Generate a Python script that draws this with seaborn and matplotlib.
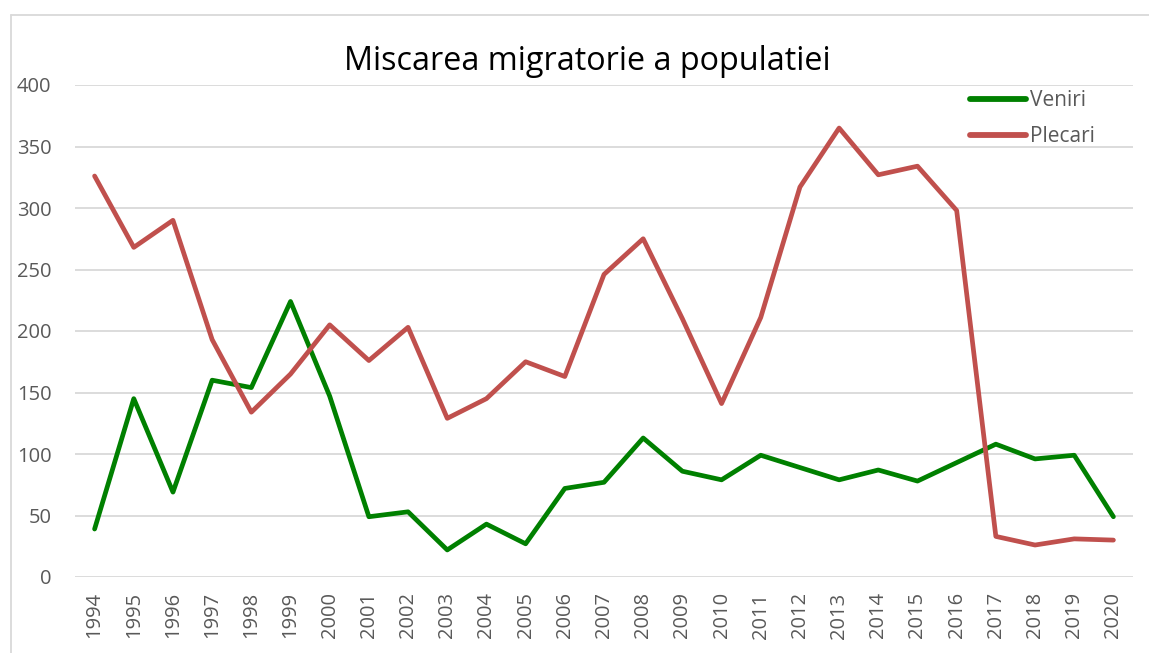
import matplotlib
matplotlib.use("Agg")
import matplotlib.pyplot as plt
import seaborn as sns
import pandas as pd
from matplotlib.lines import Line2D

years = list(range(1994, 2021))
veniri = [39, 145, 69, 160, 154, 224, 147, 49, 53, 22, 43, 27, 72, 77, 113, 86, 79, 99, 89, 79, 87, 78, 93, 108, 96, 99, 49]
plecari = [326, 268, 290, 193, 134, 165, 205, 176, 203, 129, 145, 175, 163, 246, 275, 210, 141, 211, 317, 365, 327, 334, 298, 33, 26, 31, 30]
series_names = ["Veniri", "Plecari"]
colors = {"Veniri": "#008000", "Plecari": "#C0504D"}
title = "Miscarea migratorie a populatiei"

df = pd.concat([
    pd.DataFrame({"An": years, "Valoare": veniri, "Serie": "Veniri"}),
    pd.DataFrame({"An": years, "Valoare": plecari, "Serie": "Plecari"}),
])

sns.set_theme(style="white")
plt.rcParams["font.family"] = ["Open Sans", "DejaVu Sans"]

W, H = 1149, 653
fig = plt.figure(figsize=(W / 100, H / 100), dpi=100)
ax = fig.add_axes([75 / W, 1 - 577 / H, (1133 - 75) / W, (577 - 85) / H])

sns.lineplot(data=df, x="An", y="Valoare", hue="Serie", hue_order=series_names,
             palette=colors, linewidth=3.4, ax=ax, legend=False,
             solid_capstyle="round", solid_joinstyle="round")

ax.set_xlim(1993.5, 2020.5)
ax.set_ylim(0, 400)
ax.set_yticks(range(0, 401, 50))
ax.set_xticks(years)
ax.set_xticklabels([str(y) for y in years], rotation=90)
ax.grid(axis="y", color="#d9d9d9", linewidth=1.3)
ax.grid(axis="x", visible=False)
ax.set_axisbelow(True)
for s in ax.spines.values():
    s.set_visible(False)
ax.tick_params(axis="y", length=0, pad=17, labelsize=14.5, labelcolor="#595959")
ax.tick_params(axis="x", length=0, pad=11, labelsize=14.5, labelcolor="#595959")
ax.set_xlabel("")
ax.set_ylabel("")

fig.text(587 / W, 1 - 61 / H, title, ha="center", va="center", fontsize=23.3, color="#000000")

handles = [Line2D([0], [0], color=colors[n], linewidth=4.2, solid_capstyle="round") for n in series_names]
leg = ax.legend(handles, series_names, loc="upper left", bbox_to_anchor=((962 - 75) / (1133 - 75), 1 + 3 / 492),
                frameon=False, fontsize=15, labelcolor="#595959", handlelength=2.65,
                handletextpad=0.2, labelspacing=0.72, borderaxespad=0)

# chart border (left and top)
fig.add_artist(Line2D([11 / W, 11 / W], [0, 1 - 15 / H], transform=fig.transFigure, color="#d9d9d9", linewidth=1.3))
fig.add_artist(Line2D([11 / W, 1], [1 - 15 / H, 1 - 15 / H], transform=fig.transFigure, color="#d9d9d9", linewidth=1.3))

fig.savefig("out.png", dpi=100, facecolor="white")
